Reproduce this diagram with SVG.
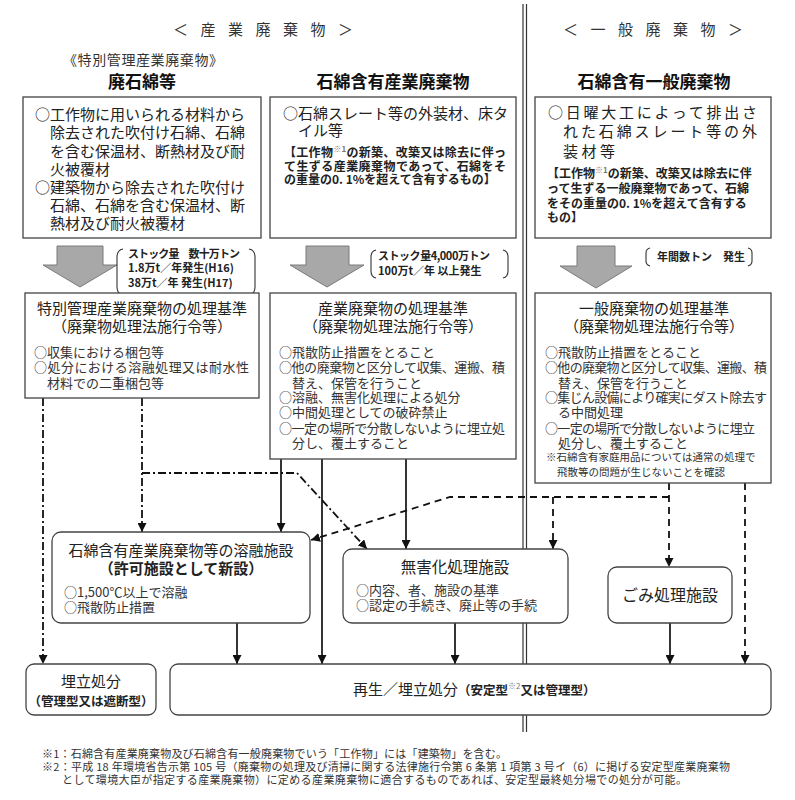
<svg xmlns="http://www.w3.org/2000/svg" width="795" height="800" viewBox="0 0 795 800">
<defs>
<style>
text{font-family:"Noto Sans CJK JP","Liberation Sans",sans-serif;fill:#222}
.hd{font-size:15px;fill:#333}
.ti{font-size:17px;font-weight:bold;text-anchor:middle;fill:#111}
.m{font-size:15px}
.c{text-anchor:middle}
.br{font-size:12px;font-weight:bold}
.st{font-size:11px;font-weight:bold}
.s{font-size:13px;fill:#333}
.n{font-size:10.5px;fill:#333}
.fn{font-size:11px;fill:#333}
.sup{font-size:8px;fill:#777}
.box{fill:#fff;stroke:#444;stroke-width:1.3}
.blk{fill:#a8a8a8;stroke:#7a7a7a;stroke-width:1}
.brk{fill:none;stroke:#333;stroke-width:1.1}
.sol{fill:none;stroke:#111;stroke-width:1.7}
.dd{fill:none;stroke:#111;stroke-width:1.8;stroke-dasharray:8 3 2 3}
.da{fill:none;stroke:#111;stroke-width:1.8;stroke-dasharray:7 5}
.div{stroke:#333;stroke-width:1.2}
</style>
<marker id="ah" viewBox="0 0 10 10" refX="10" refY="5" markerWidth="9" markerHeight="9" markerUnits="userSpaceOnUse" orient="auto">
<path d="M0,0 L10,5 L0,10 z" fill="#111"/>
</marker>
</defs>
<rect width="795" height="800" fill="#fff"/>

<g id="divider">
<line class="div" x1="523" y1="4" x2="523" y2="732"/>
<line class="div" x1="526.5" y1="4" x2="526.5" y2="732"/>
</g>

<g id="headers">
<text class="hd" x="173" y="35" textLength="180" lengthAdjust="spacing">＜産業廃棄物＞</text>
<text class="hd" x="563" y="35" textLength="180" lengthAdjust="spacing">＜一般廃棄物＞</text>
<text style="font-size:14px;fill:#333" x="63" y="65" textLength="160">《特別管理産業廃棄物》</text>
<text class="ti" x="142" y="88">廃石綿等</text>
<text class="ti" x="393" y="88">石綿含有産業廃棄物</text>
<text class="ti" x="654" y="88">石綿含有一般廃棄物</text>
</g>

<g id="connectors">
<path class="sol" d="M281,459 V532" marker-end="url(#ah)"/>
<path class="sol" d="M322,459 V664" marker-end="url(#ah)"/>
<path class="sol" d="M406,459 V549" marker-end="url(#ah)"/>
<path class="sol" d="M237,623 V664" marker-end="url(#ah)"/>
<path class="sol" d="M455,623 V664" marker-end="url(#ah)"/>
<path class="sol" d="M670,623 V664" marker-end="url(#ah)"/>
<path class="dd" d="M43,398 V664" marker-end="url(#ah)"/>
<path class="dd" d="M142,398 V532" marker-end="url(#ah)"/>
<path class="dd" d="M142,473 H297 L367,549" marker-end="url(#ah)"/>
<path class="da" d="M669,483 V567" marker-end="url(#ah)"/>
<path class="da" d="M745,483 V664" marker-end="url(#ah)"/>
<path class="da" d="M669,497 H450 L311,540" marker-end="url(#ah)"/>
<path class="da" d="M553,497 V549" marker-end="url(#ah)"/>
</g>

<g id="box-haisekimen">
<rect class="box" x="23" y="97" width="238" height="141"/>
<text class="m" x="35" y="120">○工作物に用いられる材料から</text>
<text class="m" x="50" y="138">除去された吹付け石綿、石綿</text>
<text class="m" x="50" y="157">を含む保温材、断熱材及び耐</text>
<text class="m" x="50" y="175">火被覆材</text>
<text class="m" x="35" y="193">○建築物から除去された吹付け</text>
<text class="m" x="50" y="211">石綿、石綿を含む保温材、断</text>
<text class="m" x="50" y="229">熱材及び耐火被覆材</text>
</g>

<g id="box-sangyo">
<rect class="box" x="270" y="97" width="246" height="141"/>
<text class="m" x="283" y="119">○石綿スレート等の外装材、床タ</text>
<text class="m" x="298" y="136">イル等</text>
<text class="br" x="284" y="157" textLength="222">【工作物<tspan class="sup" dy="-5">※1</tspan><tspan dy="5">の新築、改築又は除去に伴っ</tspan></text>
<text class="br" x="284" y="171" textLength="222">て生ずる産業廃棄物であって、石綿をそ</text>
<text class="br" x="284" y="184">の重量の0. 1%を超えて含有するもの】</text>
</g>

<g id="box-ippan">
<rect class="box" x="535" y="97" width="236" height="141"/>
<text class="m" x="548" y="118" textLength="209" lengthAdjust="spacing">○日曜大工によって排出さ</text>
<text class="m" x="563" y="137" textLength="194" lengthAdjust="spacing">れた石綿スレート等の外</text>
<text class="m" x="563" y="157" textLength="52" lengthAdjust="spacing">装材等</text>
<text class="br" x="547" y="178">【工作物<tspan class="sup" dy="-5">※1</tspan><tspan dy="5">の新築、改築又は除去に伴</tspan></text>
<text class="br" x="547" y="193">って生ずる一般廃棄物であって、石綿</text>
<text class="br" x="547" y="208">をその重量の0. 1%を超えて含有する</text>
<text class="br" x="547" y="222">もの】</text>
</g>

<g id="flow-arrows">
<polygon class="blk" points="57,246 103,246 103,265 117,265 80,287 43,265 57,265"/>
<polygon class="blk" points="306,246 349,246 349,265 364,265 327,287 290,265 306,265"/>
<polygon class="blk" points="577,246 615,246 615,266 632,266 596,288 560,266 577,266"/>
</g>

<g id="stock-labels">
<path class="brk" d="M123,249 Q117,250 117,257 L117,287 Q117,294 123,295"/>
<path class="brk" d="M249,249 Q255,250 255,257 L255,287 Q255,294 249,295"/>
<text class="st" x="128" y="258" textLength="112">ストック量　数十万トン</text>
<text class="st" x="128" y="272">1.8万t／年発生(H16)</text>
<text class="st" x="128" y="287">38万t／年 発生(H17)</text>
<path class="brk" d="M376,250 Q371,251 371,257 L371,271 Q371,277 376,278"/>
<path class="brk" d="M503,250 Q508,251 508,257 L508,271 Q508,277 503,278"/>
<text class="st" x="378" y="260" textLength="112">ストック量4,000万トン</text>
<text class="st" x="378" y="275">100万t／年 以上発生</text>
<path class="brk" d="M650,248 Q646,249 646,253 L646,261 Q646,265 650,266"/>
<path class="brk" d="M748,248 Q752,249 752,253 L752,261 Q752,265 748,266"/>
<text class="st" x="657" y="261">年間数トン　発生</text>
</g>

<g id="box-tokubetsu-kijun">
<rect class="box" x="25" y="293" width="234" height="105"/>
<text class="m c" x="142" y="314">特別管理産業廃棄物の処理基準</text>
<text class="m c" x="142" y="332">（廃棄物処理法施行令等）</text>
<text class="s" x="34" y="357">○収集における梱包等</text>
<text class="s" x="34" y="372" textLength="215">○処分における溶融処理又は耐水性</text>
<text class="s" x="47" y="388">材料での二重梱包等</text>
</g>

<g id="box-sangyo-kijun">
<rect class="box" x="270" y="293" width="246" height="166"/>
<text class="m c" x="393" y="314">産業廃棄物の処理基準</text>
<text class="m c" x="393" y="332">（廃棄物処理法施行令等）</text>
<text class="s" x="279" y="357">○飛散防止措置をとること</text>
<text class="s" x="279" y="372" textLength="226">○他の廃棄物と区分して収集、運搬、積</text>
<text class="s" x="292" y="388">替え、保管を行うこと</text>
<text class="s" x="279" y="402">○溶融、無害化処理による処分</text>
<text class="s" x="279" y="417">○中間処理としての破砕禁止</text>
<text class="s" x="279" y="433" textLength="226">○一定の場所で分散しないように埋立処</text>
<text class="s" x="292" y="448">分し、覆土すること</text>
</g>

<g id="box-ippan-kijun">
<rect class="box" x="535" y="293" width="236" height="190"/>
<text class="m c" x="654" y="314">一般廃棄物の処理基準</text>
<text class="m c" x="654" y="332">（廃棄物処理法施行令等）</text>
<text class="s" x="545" y="357">○飛散防止措置をとること</text>
<text class="s" x="545" y="372" textLength="222">○他の廃棄物と区分して収集、運搬、積</text>
<text class="s" x="558" y="388">替え、保管を行うこと</text>
<text class="s" x="545" y="402" textLength="222">○集じん設備により確実にダスト除去す</text>
<text class="s" x="558" y="417">る中間処理</text>
<text class="s" x="545" y="433" textLength="210">○一定の場所で分散しないように埋立</text>
<text class="s" x="558" y="448">処分し、覆土すること</text>
<text class="n" x="546" y="461">※石綿含有家庭用品については通常の処理で</text>
<text class="n" x="557" y="476">飛散等の問題が生じないことを確認</text>
</g>

<g id="box-yoyu">
<rect class="box" x="52" y="532" width="258" height="91" rx="9"/>
<text class="m c" x="181" y="556">石綿含有産業廃棄物等の溶融施設</text>
<text class="m c" x="181" y="574" font-weight="bold">（許可施設として新設）</text>
<text class="s" x="64" y="597">○1,500℃以上で溶融</text>
<text class="s" x="64" y="612">○飛散防止措置</text>
</g>

<g id="box-mugaika">
<rect class="box" x="343" y="549" width="225" height="74" rx="9"/>
<text class="m c" x="455" y="573" style="font-size:15.5px">無害化処理施設</text>
<text class="s" x="356" y="595">○内容、者、施設の基準</text>
<text class="s" x="356" y="610">○認定の手続き、廃止等の手続</text>
</g>

<g id="box-gomi">
<rect class="box" x="608" y="567" width="124" height="56" rx="9"/>
<text class="m c" x="670" y="601" style="font-size:16px">ごみ処理施設</text>
</g>

<g id="box-umetate">
<rect class="box" x="26" y="664" width="130" height="51" rx="8"/>
<text class="m c" x="91" y="687">埋立処分</text>
<text class="c" x="91" y="706" style="font-size:12.5px;font-weight:bold">（管理型又は遮断型）</text>
</g>

<g id="box-saisei">
<rect class="box" x="170" y="664" width="601" height="51" rx="8"/>
<text x="353" y="695"><tspan class="m">再生／埋立処分</tspan><tspan style="font-size:12.5px;font-weight:bold">（安定型</tspan><tspan class="sup" dy="-6">※2</tspan><tspan dy="6" style="font-size:12.5px;font-weight:bold">又は管理型）</tspan></text>
</g>

<g id="footnotes">
<text class="fn" x="42" y="758" textLength="465">※1：石綿含有産業廃棄物及び石綿含有一般廃棄物でいう「工作物」には「建築物」を含む。</text>
<text class="fn" x="42" y="771" textLength="688">※2：平成 18 年環境省告示第 105 号（廃棄物の処理及び清掃に関する法律施行令第 6 条第 1 項第 3 号イ（6）に掲げる安定型産業廃棄物</text>
<text class="fn" x="62" y="784" textLength="625">として環境大臣が指定する産業廃棄物）に定める産業廃棄物に適合するものであれば、安定型最終処分場での処分が可能。</text>
</g>
</svg>
